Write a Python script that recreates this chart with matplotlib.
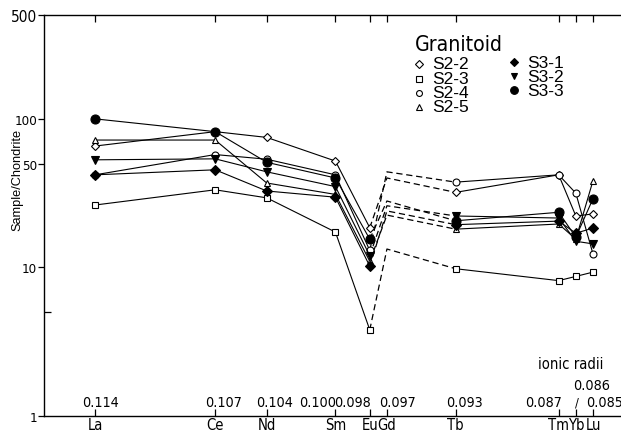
import os
import matplotlib
matplotlib.use('Agg')
import matplotlib.pyplot as plt
from matplotlib import font_manager
from matplotlib.font_manager import FontProperties
from matplotlib.ticker import FixedLocator, NullFormatter
from matplotlib.transforms import blended_transform_factory

# ---------------- fonts ----------------
_narrow_file = None
_pref = ['LiberationSansNarrow-Regular', 'DejaVuSansCondensed.ttf']
_files = [f.fname for f in font_manager.fontManager.ttflist]
for p in _pref:
    for f in _files:
        if os.path.basename(f).startswith(p.replace('.ttf', '')) and os.path.basename(f).endswith('.ttf') \
                and 'Bold' not in f and 'Oblique' not in f and 'Italic' not in f:
            _narrow_file = f
            break
    if _narrow_file:
        break
_names = {f.name for f in font_manager.fontManager.ttflist}
REG = 'Liberation Sans' if 'Liberation Sans' in _names else 'DejaVu Sans'


def nfont(size):
    """Condensed font if available, otherwise a scaled-down regular sans."""
    if _narrow_file:
        scale = 1.0 if 'Liberation' in _narrow_file else 0.92
        return FontProperties(fname=_narrow_file, size=size * scale)
    return FontProperties(family=REG, size=size * 0.84)


# ---------------- data ----------------
elements = ['La', 'Ce', 'Nd', 'Sm', 'Eu', 'Gd', 'Tb', 'Tm', 'Yb', 'Lu']
radii = [0.114, 0.107, 0.104, 0.100, 0.098, 0.097, 0.093, 0.087, 0.086, 0.085]
radius_labels = ['0.114', '0.107', '0.104', '0.100', '0.098', '0.097', '0.093', '0.087', '0.086', '0.085']

s2_2 = [65.6, 82.0, 75.0, 52.0, 18.5, 40.0, 32.0, 42.0, 22.2, 22.9]
s2_3 = [26.3, 33.3, 29.4, 17.3, 3.8, 13.3, 9.8, 8.15, 8.7, 9.3]
s2_4 = [42.0, 57.5, 53.5, 42.0, 13.0, 44.0, 37.5, 42.0, 31.6, 12.3]
s2_5 = [72.0, 72.0, 37.0, 31.0, 11.0, 22.5, 18.1, 19.6, 15.5, 38.4]
s3_1 = [42.0, 45.4, 32.7, 29.7, 10.2, 24.0, 19.4, 20.5, 17.0, 18.4]
s3_2 = [53.0, 53.8, 44.0, 35.0, 12.0, 26.0, 22.2, 21.5, 15.0, 14.4]
s3_3 = [100.0, 82.0, 51.0, 40.0, 15.5, 28.0, 20.6, 23.5, 16.0, 29.0]

series_names = ['S2-2', 'S2-3', 'S2-4', 'S2-5', 'S3-1', 'S3-2', 'S3-3']
series_values = [s2_2, s2_3, s2_4, s2_5, s3_1, s3_2, s3_3]
ytick_values = [1, 10, 50, 100, 500]
ytick_labels = ['1', '10', '50', '100', '500']

# ---------------- styles ----------------
styles = {
    'S2-2': dict(marker='D', mfc='white', ms=4.5),
    'S2-3': dict(marker='s', mfc='white', ms=4.5),
    'S2-4': dict(marker='o', mfc='white', ms=5),
    'S2-5': dict(marker='^', mfc='white', ms=5),
    'S3-1': dict(marker='D', mfc='black', ms=5),
    'S3-2': dict(marker='v', mfc='black', ms=5.5),
    'S3-3': dict(marker='o', mfc='black', ms=6.5),
}

W, H = 621, 431
fig = plt.figure(figsize=(W / 100, H / 100), dpi=100)
ax = fig.add_axes([44 / W, 14 / H, (W - 44) / W, 401 / H])

ax.set_yscale('log')
ax.set_ylim(1, 500)
ax.set_xlim(0.11697, 0.08337)

eu = elements.index('Eu')
tb = elements.index('Tb')

for name, vals in zip(series_names, series_values):
    st = styles[name]
    kw = dict(color='black', lw=0.8, mec='black', mew=0.8,
              marker=st['marker'], mfc=st['mfc'], ms=st['ms'])
    ax.plot(radii[:eu + 1], vals[:eu + 1], **kw, zorder=3)
    ax.plot(radii[tb:], vals[tb:], **kw, zorder=3)
    ax.plot(radii[eu:tb + 1], vals[eu:tb + 1], color='black', lw=0.9,
            ls=(0, (5, 3)), zorder=2)

# axes styling
ax.spines['right'].set_visible(False)
for sp in ['left', 'top', 'bottom']:
    ax.spines[sp].set_linewidth(1.0)

ax.set_xticks(radii)
ax.set_xticklabels(elements)
for lab in ax.get_xticklabels():
    lab.set_fontproperties(nfont(11.5))
ax.tick_params(axis='x', which='major', direction='in', length=5, width=0.9,
               top=True, bottom=True, labeltop=False, pad=1)

ax.yaxis.set_major_locator(FixedLocator(ytick_values))
ax.set_yticklabels(ytick_labels)
for lab in ax.get_yticklabels():
    lab.set_fontproperties(nfont(12 if lab.get_text() == '500' else 10.5))
ax.yaxis.set_minor_locator(FixedLocator([5]))
ax.yaxis.set_minor_formatter(NullFormatter())
ax.tick_params(axis='y', which='major', direction='out', length=4, width=0.9, pad=1)
ax.tick_params(axis='y', which='minor', direction='in', length=5, width=0.9)
ax.tick_params(axis='y', right=False)

ax.set_ylabel('Sample/Chondrite', fontfamily=REG, fontsize=9.2, labelpad=2)
ax.yaxis.set_label_coords(-21 / (W - 44), (417 - 180) / 401)

# ionic radius labels above bottom ticks
trans = blended_transform_factory(ax.transData, ax.transAxes)
dx = {'0.114': 5, '0.107': 8, '0.104': 8, '0.100': -18, '0.098': -17,
      '0.097': 11, '0.093': 9, '0.087': -15, '0.086': 16, '0.085': 12}
for r, lab in zip(radii, radius_labels):
    dy = 10 if lab != '0.086' else 27
    ax.annotate(lab, xy=(r, 0), xycoords=trans, xytext=(dx[lab], dy),
                textcoords='offset pixels', ha='center', va='baseline',
                fontproperties=nfont(11.2), annotation_clip=False)
ax.annotate('/', xy=(radii[elements.index('Yb')], 0), xycoords=trans,
            xytext=(1, 10), textcoords='offset pixels', ha='center', va='baseline',
            fontproperties=nfont(10), annotation_clip=False)
fig.text(571 / W, 1 - 369 / H, 'ionic radii', ha='center', va='baseline',
         fontproperties=nfont(11.5))

# legend (drawn manually)
fig.text(415 / W, 1 - 51 / H, 'Granitoid', ha='left', va='baseline',
         fontproperties=nfont(16.5))
col1 = [('S2-2', 65), ('S2-3', 80), ('S2-4', 94), ('S2-5', 108)]
col2 = [('S3-1', 63), ('S3-2', 77), ('S3-3', 91)]
for items, mx, tx in [(col1, 419, 432), (col2, 514, 527)]:
    for name, py in items:
        st = styles[name]
        fig.add_artist(plt.Line2D([mx / W], [1 - py / H], marker=st['marker'],
                                  mfc=st['mfc'], mec='black', mew=0.8,
                                  ms=st['ms'] * 0.85, ls='none',
                                  transform=fig.transFigure))
        fig.text(tx / W, 1 - py / H, name, ha='left', va='center',
                 fontfamily=REG, fontsize=12.5)

fig.savefig('out.png', dpi=100)
